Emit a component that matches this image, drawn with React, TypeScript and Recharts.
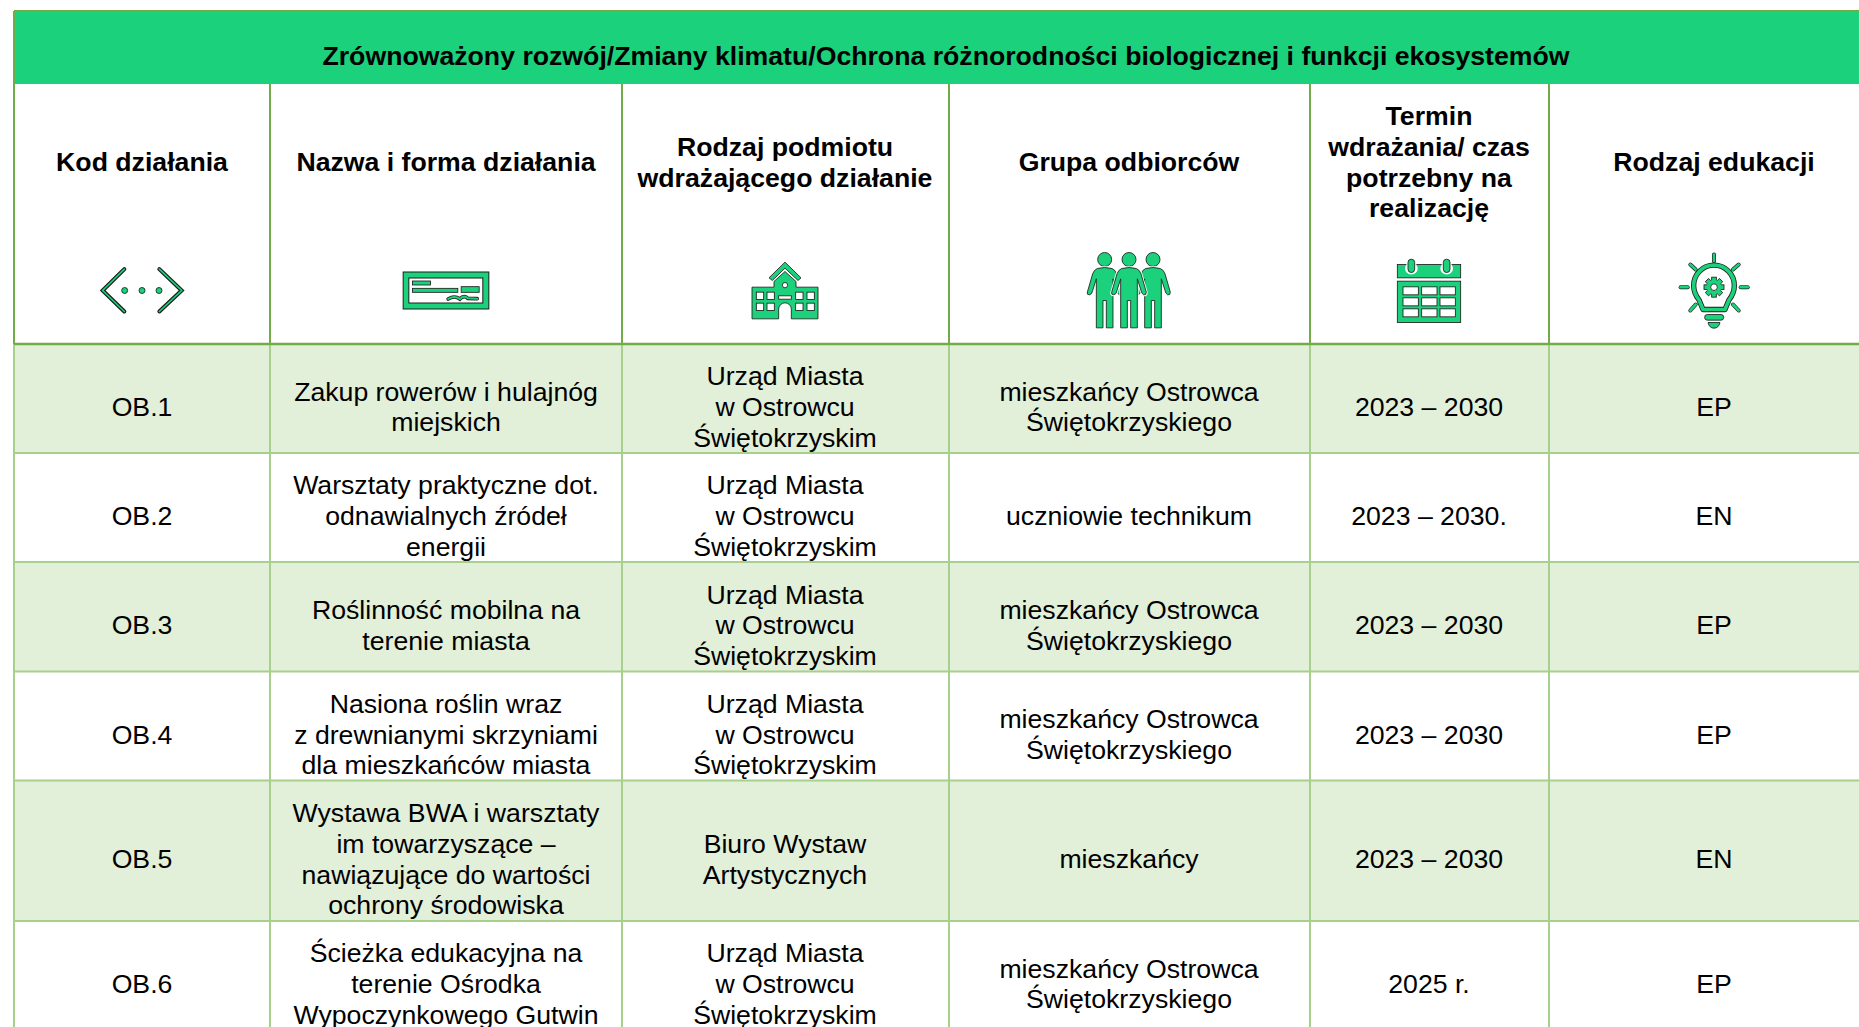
import { ScatterChart, Scatter, XAxis, YAxis, ReferenceArea, ReferenceLine } from 'recharts';

const TITLE = 'Zrównoważony rozwój/Zmiany klimatu/Ochrona różnorodności biologicznej i funkcji ekosystemów';

const HEADERS = [
  ['Kod działania'],
  ['Nazwa i forma działania'],
  ['Rodzaj podmiotu', 'wdrażającego działanie'],
  ['Grupa odbiorców'],
  ['Termin', 'wdrażania/ czas', 'potrzebny na', 'realizację'],
  ['Rodzaj edukacji'],
];

const CODES = [['OB.1'], ['OB.2'], ['OB.3'], ['OB.4'], ['OB.5'], ['OB.6']];

const NAMES = [
  ['Zakup rowerów i hulajnóg', 'miejskich'],
  ['Warsztaty praktyczne dot.', 'odnawialnych źródeł', 'energii'],
  ['Roślinność mobilna na', 'terenie miasta'],
  ['Nasiona roślin wraz', 'z drewnianymi skrzyniami', 'dla mieszkańców miasta'],
  ['Wystawa BWA i warsztaty', 'im towarzyszące –', 'nawiązujące do wartości', 'ochrony środowiska'],
  ['Ścieżka edukacyjna na', 'terenie Ośrodka', 'Wypoczynkowego Gutwin'],
];

const URZAD = ['Urząd Miasta', 'w Ostrowcu', 'Świętokrzyskim'];
const ENTITIES = [URZAD, URZAD, URZAD, URZAD, ['Biuro Wystaw', 'Artystycznych'], URZAD];

const MIESZKANCY = ['mieszkańcy Ostrowca', 'Świętokrzyskiego'];
const AUDIENCES = [MIESZKANCY, ['uczniowie technikum'], MIESZKANCY, MIESZKANCY, ['mieszkańcy'], MIESZKANCY];

const DATES = [['2023 – 2030'], ['2023 – 2030.'], ['2023 – 2030'], ['2023 – 2030'], ['2023 – 2030'], ['2025 r.']];

const EDUCATION = [['EP'], ['EN'], ['EP'], ['EP'], ['EN'], ['EP']];

const BODY_COLUMNS = [CODES, NAMES, ENTITIES, AUDIENCES, DATES, EDUCATION];
const ICONS = ['code', 'form', 'school', 'people', 'calendar', 'bulb'];

// table grid, in page pixels
const W = 1859;
const H = 1027;
const COL_EDGES = [14, 270, 622, 949, 1310, 1549, 1880];
const COL_CENTERS = [142, 446, 785, 1129, 1429, 1714];
const TITLE_TOP = 11;
const TITLE_BOTTOM = 84;
const HEAD_BOTTOM = 344;
const ROW_EDGES = [344, 453, 562, 671.5, 780.5, 921, 1030];
const ROW_TEXT_SHIFT = 8.2;

const GREEN = '#1BD17B';
const DARK_LINE = '#70AD47';
const LIGHT_LINE = '#A8D08D';
const ROW_FILL = '#E2EFD9';
const INK = '#1c1c1c';
const FONT = '"Liberation Sans", Arial, sans-serif';
const FONT_SIZE = 26.67;
const LINE_H = 30.6;

function TextCell(props: any) {
  const { cx, cy, payload } = props;
  const lines: string[] = payload.lines;
  const top = cy - ((lines.length - 1) * LINE_H) / 2;
  return (
    <text
      textAnchor="middle"
      fontFamily={FONT}
      fontSize={FONT_SIZE}
      fontWeight={payload.bold ? 700 : 400}
      fill="#000"
    >
      {lines.map((l, i) => (
        <tspan key={i} x={cx} y={top + i * LINE_H + FONT_SIZE * 0.35}>
          {l}
        </tspan>
      ))}
    </text>
  );
}

const stroked = { fill: GREEN, stroke: INK, strokeWidth: 2.5 };

function PersonPath({ x }: { x: number }) {
  return (
    <g transform={`translate(${x},0)`}>
      <circle cx={0} cy={57} r={21} {...stroked} />
      <path
        d="M-22,84 Q0,78 22,84 Q32,88 36,100 L52,155 Q52,165 44,163 Q38,160 36,150 L25,115 V262 H5 V180 H-5 V262 H-25 V115 L-36,150 Q-38,162 -46,163 Q-54,163 -52,155 L-36,100 Q-32,88 -22,84 Z"
        fill="none"
        stroke="#fff"
        strokeWidth={8}
      />
      <path
        d="M-22,84 Q0,78 22,84 Q32,88 36,100 L52,155 Q52,165 44,163 Q38,160 36,150 L25,115 V262 H5 V180 H-5 V262 H-25 V115 L-36,150 Q-38,162 -46,163 Q-54,163 -52,155 L-36,100 Q-32,88 -22,84 Z"
        {...stroked}
      />
    </g>
  );
}

function Ray({ d }: { d: string }) {
  return (
    <g fill="none" strokeLinecap="round">
      <path d={d} stroke={INK} strokeWidth={12} />
      <path d={d} stroke={GREEN} strokeWidth={8} />
    </g>
  );
}

// icons are drawn at 3x in their own local box, then scaled down around their centre
function IconGlyph({ kind }: { kind: string }) {
  if (kind === 'code') {
    return (
      <g transform="translate(-186,-152)">
        {['M133,88 L68,152 L133,215', 'M238,88 L305,152 L238,215'].map((d) => (
          <g key={d} fill="none" strokeLinecap="round">
            <path d={d} stroke={INK} strokeWidth={12} />
            <path d={d} stroke={GREEN} strokeWidth={5} />
          </g>
        ))}
        {[134, 186, 237].map((x) => (
          <circle key={x} cx={x} cy={152} r={9} {...stroked} />
        ))}
      </g>
    );
  }
  if (kind === 'form') {
    return (
      <g transform="translate(-196.5,-122.5)">
        <rect x={68} y={67} width={257} height={111} {...stroked} strokeWidth={3} />
        <rect x={85} y={85} width={222} height={75} fill="#fff" stroke={INK} strokeWidth={3} />
        <rect x={96} y={94} width={54} height={12} {...stroked} />
        <rect x={96} y={116} width={136} height={12} {...stroked} />
        <rect x={242} y={111} width={54} height={17} {...stroked} />
        <path d="M203,148 Q222,136 238,148 Q250,135 262,146 L290,147" fill="none" stroke={INK} strokeWidth={11} strokeLinecap="round" />
        <path d="M203,148 Q222,136 238,148 Q250,135 262,146 L290,147" fill="none" stroke={GREEN} strokeWidth={6} strokeLinecap="round" />
      </g>
    );
  }
  if (kind === 'school') {
    const windows = [80, 112, 198, 232].flatMap((x) => [127, 160].map((y) => [x, y]));
    return (
      <g transform="translate(-166,-122)">
        <path d="M166,37 L214,84 L205,92 L166,55 L128,92 L118,84 Z" {...stroked} />
        <path d="M67,112 H133 V95 L166,65 L199,95 V112 H265 V207 H185 V178 A19,19 0 0 0 147,178 V207 H67 Z" {...stroked} />
        {windows.map(([x, y]) => (
          <rect key={`${x}-${y}`} x={x} y={y} width={22} height={22} fill="#fff" stroke={INK} strokeWidth={2.5} />
        ))}
        <rect x={147} y={138} width={38} height={10} fill="#fff" stroke={INK} strokeWidth={2.5} />
        <circle cx={166} cy={106} r={8} fill="#fff" stroke={INK} strokeWidth={2.5} />
      </g>
    );
  }
  if (kind === 'people') {
    return (
      <g transform="translate(-176,-150)">
        <PersonPath x={103} />
        <PersonPath x={248} />
        <PersonPath x={176} />
      </g>
    );
  }
  if (kind === 'calendar') {
    const cells = [70, 126, 181].flatMap((x) => [125, 158, 191].map((y) => [x, y]));
    return (
      <g transform="translate(-148,-136)">
        <rect x={53} y={58} width={190} height={40} {...stroked} />
        <rect x={53} y={108} width={190} height={124} {...stroked} />
        {cells.map(([x, y]) => (
          <rect key={`${x}-${y}`} x={x} y={y} width={46} height={24} fill="#fff" stroke={INK} strokeWidth={2.5} />
        ))}
        {[95, 201].map((x) => (
          <g key={x}>
            <rect x={x - 19} y={52} width={38} height={36} rx={19} fill="#fff" />
            <rect x={x - 10} y={42} width={20} height={40} rx={10} {...stroked} />
          </g>
        ))}
      </g>
    );
  }
  const teeth = [0, 45, 90, 135, 180, 225, 270, 315];
  return (
    <g transform="translate(-131,-150)">
      <Ray d="M131,42 V62" />
      <Ray d="M31,140 H52" />
      <Ray d="M211,140 H232" />
      <Ray d="M60,72 L76,87" />
      <Ray d="M205,72 L188,87" />
      <Ray d="M60,210 L76,192" />
      <Ray d="M205,210 L188,192" />
      <path d="M98,207 H164 L176,178 Q192,158 192,135 A61,61 0 0 0 70,135 Q70,158 86,178 Z" fill="#fff" stroke={INK} strokeWidth={16} strokeLinejoin="round" />
      <path d="M98,207 H164 L176,178 Q192,158 192,135 A61,61 0 0 0 70,135 Q70,158 86,178 Z" fill="none" stroke={GREEN} strokeWidth={11} strokeLinejoin="round" />
      {teeth.map((a) => (
        <rect key={a} x={124} y={110} width={14} height={14} transform={`rotate(${a} 131 140)`} {...stroked} />
      ))}
      <circle cx={131} cy={140} r={22} fill={GREEN} />
      <circle cx={131} cy={140} r={10} fill="#fff" stroke={INK} strokeWidth={2.5} />
      <rect x={103} y={222} width={57} height={17} rx={8} {...stroked} />
      <path d="M113,246 H149 Q145,263 131,263 Q117,263 113,246 Z" {...stroked} />
    </g>
  );
}

function IconCell(props: any) {
  const { cx, cy, payload } = props;
  return (
    <g transform={`translate(${cx},${cy}) scale(${1 / 3})`}>
      <IconGlyph kind={payload.kind} />
    </g>
  );
}

const titleData = [{ x: 946, y: 56, lines: [TITLE], bold: true }];
const headerData = HEADERS.map((lines, i) => ({ x: COL_CENTERS[i], y: 162, lines, bold: true }));
const iconData = ICONS.map((kind, i) => ({ x: COL_CENTERS[i], y: 290.5, kind }));
const bodyData = BODY_COLUMNS.flatMap((col, c) =>
  col.map((lines, r) => ({
    x: COL_CENTERS[c],
    y: (ROW_EDGES[r] + ROW_EDGES[r + 1]) / 2 + ROW_TEXT_SHIFT,
    lines,
    bold: false,
  })),
);

export default function App() {
  return (
    <div style={{ position: 'absolute', left: 0, top: 0, width: W, height: H, overflow: 'hidden', background: '#fff' }}>
      <ScatterChart width={W} height={H} margin={{ top: 0, right: 0, bottom: 0, left: 0 }}>
        <XAxis type="number" dataKey="x" domain={[0, W]} hide />
        <YAxis type="number" dataKey="y" domain={[0, H]} reversed hide />

        <ReferenceArea x1={COL_EDGES[0]} x2={W} y1={TITLE_TOP} y2={TITLE_BOTTOM} fill={GREEN} fillOpacity={1} stroke="none" />
        {[0, 2, 4].map((r) => (
          <ReferenceArea
            key={r}
            x1={COL_EDGES[0]}
            x2={W}
            y1={ROW_EDGES[r]}
            y2={ROW_EDGES[r + 1]}
            fill={ROW_FILL}
            fillOpacity={1}
            stroke="none"
          />
        ))}

        {COL_EDGES.slice(0, 6).map((x) => (
          <ReferenceLine
            key={`body-${x}`}
            segment={[{ x, y: HEAD_BOTTOM }, { x, y: H }]}
            stroke={LIGHT_LINE}
            strokeWidth={2}
          />
        ))}
        {ROW_EDGES.slice(1, 6).map((y) => (
          <ReferenceLine
            key={`row-${y}`}
            segment={[{ x: COL_EDGES[0], y }, { x: W, y }]}
            stroke={LIGHT_LINE}
            strokeWidth={2}
          />
        ))}
        {COL_EDGES.slice(0, 6).map((x) => (
          <ReferenceLine
            key={`head-${x}`}
            segment={[{ x, y: x === COL_EDGES[0] ? TITLE_TOP : TITLE_BOTTOM }, { x, y: HEAD_BOTTOM }]}
            stroke={DARK_LINE}
            strokeWidth={2}
          />
        ))}
        <ReferenceLine segment={[{ x: COL_EDGES[0], y: TITLE_TOP }, { x: W, y: TITLE_TOP }]} stroke={DARK_LINE} strokeWidth={2} />
        <ReferenceLine segment={[{ x: COL_EDGES[0], y: HEAD_BOTTOM }, { x: W, y: HEAD_BOTTOM }]} stroke={DARK_LINE} strokeWidth={2.5} />

        <Scatter data={titleData} shape={TextCell} isAnimationActive={false} />
        <Scatter data={headerData} shape={TextCell} isAnimationActive={false} />
        <Scatter data={iconData} shape={IconCell} isAnimationActive={false} />
        <Scatter data={bodyData} shape={TextCell} isAnimationActive={false} />
      </ScatterChart>
    </div>
  );
}
